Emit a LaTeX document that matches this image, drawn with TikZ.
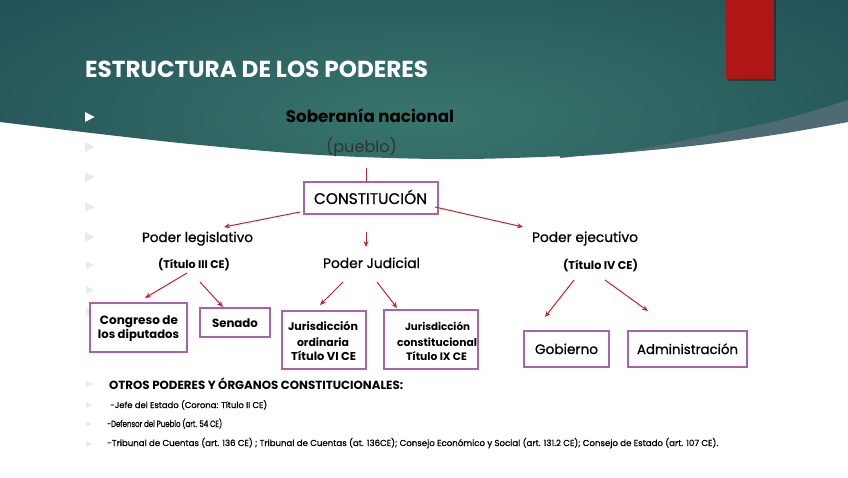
\documentclass[tikz,border=0pt]{standalone}
\usepackage{fontspec}
\setmainfont{Poppins}
\newfontfamily\medf[FakeBold=0.8]{Poppins}
\usetikzlibrary{arrows.meta}
\definecolor{tealL}{RGB}{56,118,108}
\definecolor{tealD}{RGB}{21,57,74}
\definecolor{bandc}{RGB}{78,106,114}
\definecolor{redbar}{RGB}{176,22,22}
\definecolor{arrc}{RGB}{196,34,40}
\definecolor{purp}{RGB}{168,98,176}
\definecolor{bulc}{RGB}{234,234,234}
\newcommand{\fitw}[2]{\resizebox{#1pt}{!}{#2}}
\newcommand{\btri}[4]{\fill[#4] (#1,#2) ++(0,-#3) -- ++({1.9*#3},#3) -- ++({-1.9*#3},#3) -- cycle;}
\tikzset{
  txt/.style={inner sep=0pt, anchor=base},
  pbox/.style={draw=purp, line width=1.5pt, fill=white, inner sep=0pt},
  arr/.style={draw=arrc, line width=1pt, -{Stealth[length=6pt,width=5pt]}},
  lnk/.style={draw=arrc, line width=1pt}
}
\begin{document}
\begin{tikzpicture}[x=1pt,y=-1pt]
\useasboundingbox (0,0) rectangle (848,477);
\fill[white] (0,0) rectangle (848,477);
% background band and teal header
\fill[bandc] (560,158) -- plot[smooth,tension=0.6] coordinates {(580,156) (620,153) (700,145) (780,134) (848,122)} -- (848,0) -- (560,0) -- cycle;
\begin{scope}
\clip (0,0) -- plot[smooth,tension=0.6] coordinates {(0,122) (100,134) (200,145) (320,155) (440,159) (540,157) (620,152) (700,137) (780,120) (848,100)} -- (848,0) -- cycle;
\shade[inner color=tealL, outer color=tealD] (430,118) ellipse [x radius=900pt, y radius=300pt];
\end{scope}
% red bar
\fill[black,opacity=0.35] (727.5,0) rectangle (775.5,80.5);
\fill[redbar] (726,0) rectangle (774,79);
% bullets
\btri{85}{117}{5}{white}
\btri{85}{147}{5}{bulc}
\btri{85}{177}{5}{bulc}
\btri{85}{207}{5}{bulc}
\btri{85}{237}{5}{bulc}
\btri{86}{265}{4}{bulc}
\btri{86}{290}{4}{bulc}
\btri{86}{312}{4}{bulc}
\btri{86}{384}{3.5}{bulc}
\btri{86}{405}{3}{bulc}
\btri{86}{424}{3}{bulc}
\btri{86}{444}{3}{bulc}
% title
\node[txt,anchor=base west,text=white] (title) at (85,77) {\fitw{343}{\bfseries ESTRUCTURA DE LOS PODERES}};
\node[txt] (sob) at (370,122) {\fitw{168}{\bfseries Soberanía nacional}};
\node[txt,text=black!80] (pue) at (361.5,152) {\fitw{71}{(pueblo)}};
% constitution
\node[pbox,minimum width=134pt,minimum height=32pt] (const) at (371,198) {};
\node[txt] (constt) at (370.5,204) {\fitw{113}{\medf CONSTITUCIÓN}};
% powers
\node[txt] (leg) at (197.5,242) {\fitw{111}{\medf Poder legislativo}};
\node[txt] (tit3) at (194,268) {\fitw{72}{\bfseries (Título III CE)}};
\node[txt] (jud) at (371.5,268) {\fitw{97}{\medf Poder Judicial}};
\node[txt] (eje) at (585,242) {\fitw{106}{\medf Poder ejecutivo}};
\node[txt] (tit4) at (600.5,269) {\fitw{75}{\bfseries (Título IV CE)}};
% boxes
\node[pbox,minimum width=97pt,minimum height=49pt] (cong) at (138.5,327.5) {};
\node[pbox,minimum width=70pt,minimum height=29pt] (sen) at (235,322.5) {};
\node[pbox,minimum width=84pt,minimum height=58pt] (ord) at (324,340) {};
\node[pbox,minimum width=94pt,minimum height=59pt] (con) at (431,339.5) {};
\node[pbox,minimum width=85pt,minimum height=36pt] (gob) at (566.5,349) {};
\node[pbox,minimum width=119pt,minimum height=36pt] (adm) at (687.5,349) {};
% box texts
\node[txt] (cong1) at (139,324) {\fitw{78}{\bfseries Congreso de}};
\node[txt] (cong2) at (138.5,338) {\fitw{81}{\bfseries los diputados}};
\node[txt] (sen1) at (235,327) {\fitw{46}{\bfseries Senado}};
\node[txt] (ord1) at (323,330) {\fitw{70}{\bfseries Jurisdicción}};
\node[txt] (ord2) at (323,346) {\fitw{52}{\bfseries ordinaria}};
\node[txt] (ord3) at (323.5,360) {\fitw{65}{\bfseries Título VI CE}};
\node[txt] (con1) at (437.5,330) {\fitw{65}{\bfseries Jurisdicción}};
\node[txt] (con2) at (437,346) {\fitw{80}{\bfseries constitucional}};
\node[txt] (con3) at (436.5,360) {\fitw{61}{\bfseries Título IX CE}};
\node[txt] (gob1) at (566.5,354) {\fitw{63}{\medf Gobierno}};
\node[txt] (adm1) at (687.5,354) {\fitw{101}{\medf Administración}};
% bottom texts
\node[txt,anchor=base west] (otros) at (109,389) {\fitw{294}{\bfseries OTROS PODERES Y ÓRGANOS CONSTITUCIONALES:}};
\node[txt,anchor=base west] (jefe) at (110,408) {\fitw{157}{\medf -Jefe del Estado (Corona: Título II CE)}};
\node[txt,anchor=base west] (def) at (107,427) {\fitw{115}{\scalebox{1}[1.3]{\medf -Defensor del Pueblo (art. 54 CE)}}};
\node[txt,anchor=base west] (trib) at (107,446) {\fitw{611}{\medf -Tribunal de Cuentas (art. 136 CE) ; Tribunal de Cuentas (at. 136CE); Consejo Económico y Social (art. 131.2 CE); Consejo de Estado (art. 107 CE).}};
% connector end points
\coordinate (p0) at (366,168);
\coordinate (p0e) at (366,182);
\coordinate (c1s) at (300,212); \coordinate (c1e) at (224,227);
\coordinate (c2s) at (366,232); \coordinate (c2e) at (366,247);
\coordinate (c3s) at (435,207); \coordinate (c3e) at (523,227);
\coordinate (l1s) at (187,273); \coordinate (l1e) at (145,298);
\coordinate (l2s) at (200,282); \coordinate (l2e) at (223,307);
\coordinate (j1s) at (343,282); \coordinate (j1e) at (320,305);
\coordinate (j2s) at (377,282); \coordinate (j2e) at (397,308);
\coordinate (e1s) at (574,280); \coordinate (e1e) at (545,317);
\coordinate (e2s) at (605,280); \coordinate (e2e) at (648,311);
\draw[lnk] (p0) -- (p0e);
\draw[arr] (c1s) -- (c1e);
\draw[arr] (c2s) -- (c2e);
\draw[arr] (c3s) -- (c3e);
\draw[arr] (l1s) -- (l1e);
\draw[arr] (l2s) -- (l2e);
\draw[arr] (j1s) -- (j1e);
\draw[arr] (j2s) -- (j2e);
\draw[arr] (e1s) -- (e1e);
\draw[arr] (e2s) -- (e2e);
\end{tikzpicture}
\end{document}
